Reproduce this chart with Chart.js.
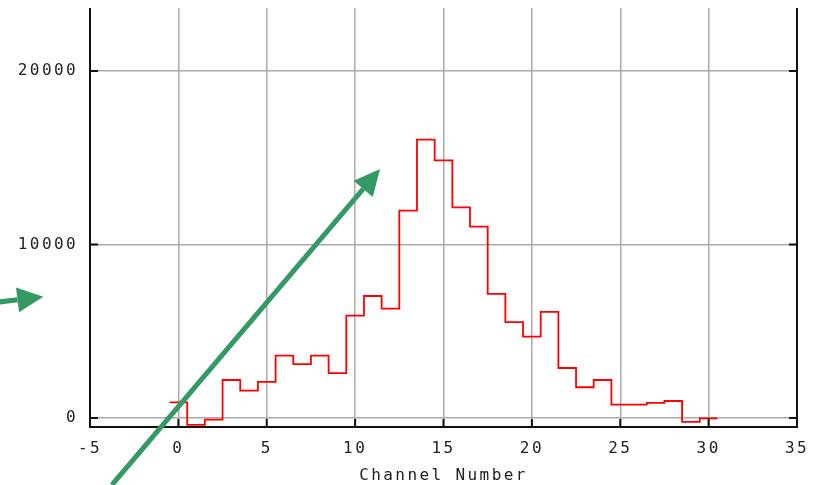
<!DOCTYPE html>
<html>
<head>
<meta charset="utf-8">
<script src="https://cdn.jsdelivr.net/npm/chart.js@4.4.1/dist/chart.umd.min.js"></script>
<style>
    html, body { margin: 0; padding: 0; background: #fff; }
    #wrap { width: 820px; height: 485px; }
</style>
</head>
<body>
<div id="wrap"><canvas id="histChart" width="820" height="485"></canvas></div>
<script>
// Histogram data (one bin per channel)
const channels = [0, 1, 2, 3, 4, 5, 6, 7, 8, 9, 10, 11, 12, 13, 14, 15, 16, 17, 18, 19, 20, 21, 22, 23, 24, 25, 26, 27, 28, 29, 30];
const counts = [900, -400, -100, 2190, 1580, 2080, 3590, 3100, 3590, 2580, 5900, 7030, 6300, 11950, 16040, 14850, 12140, 11030, 7150, 5530, 4690, 6110, 2880, 1770, 2190, 770, 770, 865, 980, -230, -20];

// Axes
const xTicks = [-5, 0, 5, 10, 15, 20, 25, 30, 35];
const yTicks = [0, 10000, 20000];
const xRange = [-5, 35];
const yRange = [-520, 23630];

// Green annotation arrows, in data units [x, y]
const arrowFrom1 = [-3.76, -3860];
const arrowTo1 = [11.41, 14350];
const arrowFrom2 = [-10.1, 6690];
const arrowTo2 = [-7.64, 6990];

const FONT = { family: '"DejaVu Sans Mono", monospace', size: 16 };

// step outline: left bin edges, plus the right edge of the last bin
const stepPoints = channels.map((c, i) => ({ x: c - 0.5, y: counts[i] }));
stepPoints.push({ x: channels[channels.length - 1] + 0.5, y: counts[counts.length - 1] });

const spacingPlugin = {
    id: 'spacing',
    beforeUpdate(chart) { chart.ctx.letterSpacing = '2.4px'; },
    beforeDraw(chart) { chart.ctx.letterSpacing = '2.4px'; }
};

// axis frame with inward ticks, like the original plot
const framePlugin = {
    id: 'frame',
    afterDatasetsDraw(chart) {
        const { ctx, chartArea: a, scales } = chart;
        ctx.save();
        ctx.strokeStyle = '#111';
        ctx.lineWidth = 2;
        ctx.beginPath();
        ctx.moveTo(a.left, a.top);
        ctx.lineTo(a.left, a.bottom);
        ctx.lineTo(a.right, a.bottom);
        ctx.lineTo(a.right, a.top);
        yTicks.forEach(v => {
            const y = scales.y.getPixelForValue(v);
            ctx.moveTo(a.left, y); ctx.lineTo(a.left + 8, y);
            ctx.moveTo(a.right, y); ctx.lineTo(a.right - 8, y);
        });
        xTicks.forEach(v => {
            const x = scales.x.getPixelForValue(v);
            ctx.moveTo(x, a.bottom); ctx.lineTo(x, a.bottom - 8);
        });
        ctx.stroke();
        ctx.restore();
    }
};

function drawArrow(ctx, x1, y1, x2, y2) {
    const ang = Math.atan2(y2 - y1, x2 - x1);
    const headLen = 26, headHalf = 12.5;
    const bx = x2 - headLen * Math.cos(ang);
    const by = y2 - headLen * Math.sin(ang);
    ctx.beginPath();
    ctx.moveTo(x1, y1);
    ctx.lineTo(bx, by);
    ctx.stroke();
    ctx.beginPath();
    ctx.moveTo(x2, y2);
    ctx.lineTo(bx + headHalf * Math.sin(ang), by - headHalf * Math.cos(ang));
    ctx.lineTo(bx - headHalf * Math.sin(ang), by + headHalf * Math.cos(ang));
    ctx.closePath();
    ctx.fill();
}

const arrowPlugin = {
    id: 'arrows',
    afterDraw(chart) {
        const { ctx, scales } = chart;
        ctx.save();
        ctx.strokeStyle = '#359966';
        ctx.fillStyle = '#359966';
        ctx.lineWidth = 5;
        [[arrowFrom1, arrowTo1], [arrowFrom2, arrowTo2]].forEach(([f, t]) => {
            drawArrow(ctx,
                scales.x.getPixelForValue(f[0]), scales.y.getPixelForValue(f[1]),
                scales.x.getPixelForValue(t[0]), scales.y.getPixelForValue(t[1]));
        });
        ctx.restore();
    }
};

const ctx = document.getElementById('histChart').getContext('2d');
new Chart(ctx, {
    type: 'line',
    data: {
        datasets: [{
            data: stepPoints,
            stepped: 'before',
            borderColor: '#ff0000',
            borderWidth: 1.8,
            pointRadius: 0,
            fill: false
        }]
    },
    options: {
        responsive: false,
        animation: false,
        layout: { padding: { left: 0, right: 23, top: 8, bottom: 0 } },
        plugins: { legend: { display: false }, tooltip: { enabled: false } },
        scales: {
            x: {
                type: 'linear',
                min: xRange[0],
                max: xRange[1],
                afterBuildTicks: s => { s.ticks = xTicks.map(v => ({ value: v })); },
                afterFit: s => { s.height = 58; s.paddingLeft = 0; s.paddingRight = 0; },
                grid: { color: '#aaaaaa', lineWidth: 1.5, drawTicks: false },
                border: { display: false },
                ticks: { font: FONT, color: '#222', padding: 12, maxRotation: 0 },
                title: { display: true, text: 'Channel Number', font: FONT, color: '#222', padding: { top: 2, bottom: 0 } }
            },
            y: {
                min: yRange[0],
                max: yRange[1],
                afterBuildTicks: s => { s.ticks = yTicks.map(v => ({ value: v })); },
                afterFit: s => { s.width = 90; s.paddingTop = 0; s.paddingBottom = 0; },
                grid: { color: '#aaaaaa', lineWidth: 1.5, drawTicks: false },
                border: { display: false },
                ticks: { font: FONT, color: '#222', padding: 12, callback: v => String(v) }
            }
        }
    },
    plugins: [spacingPlugin, framePlugin, arrowPlugin]
});
</script>
</body>
</html>
